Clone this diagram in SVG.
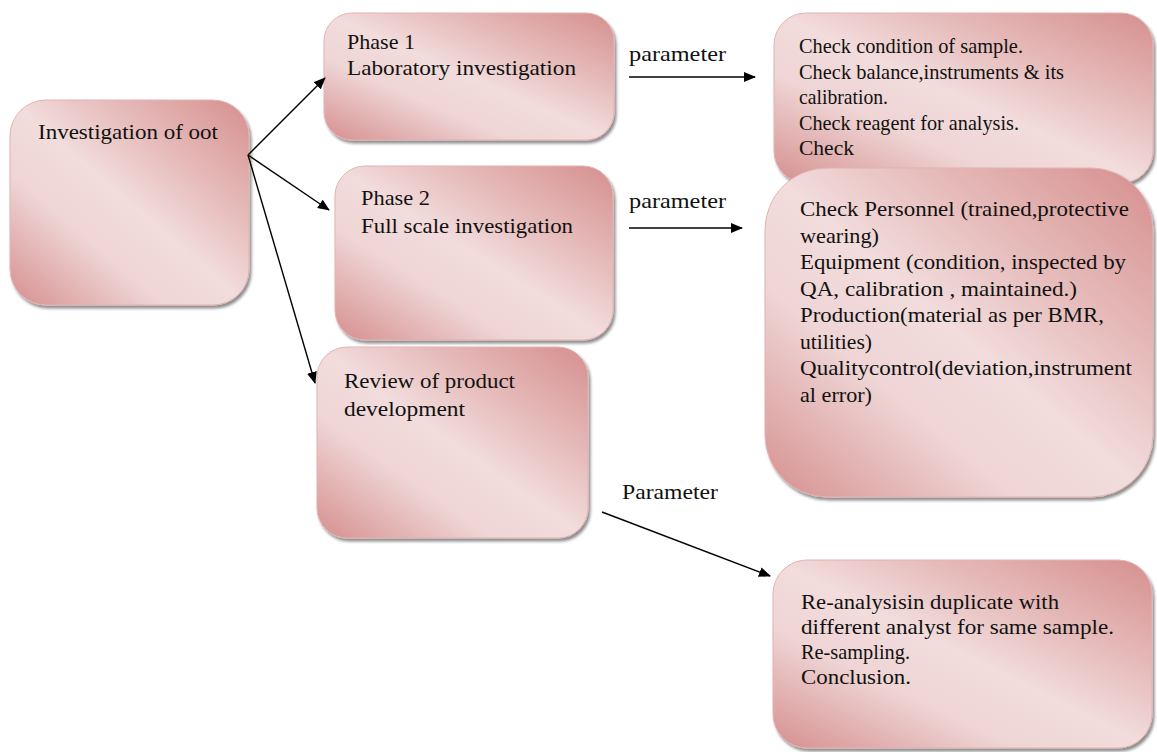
<svg xmlns="http://www.w3.org/2000/svg" width="1157" height="752" viewBox="0 0 1157 752">
<style>
.box{fill:url(#pink);stroke:#e3b3b2;stroke-width:1;filter:url(#sh)}
.t{font-family:"Liberation Serif","Times New Roman",serif;font-size:21px;fill:#111}
.c{stroke:#000;stroke-width:1.4;fill:none;marker-end:url(#ah)}
</style>
<defs>
<linearGradient id="pink" x1="1" y1="0" x2="0" y2="1">
<stop offset="0" stop-color="#d58f8e"/>
<stop offset="0.3" stop-color="#e6bcbb"/>
<stop offset="0.5" stop-color="#f2dcdc"/>
<stop offset="0.68" stop-color="#efd5d5"/>
<stop offset="1" stop-color="#d58f8e"/>
</linearGradient>
<filter id="sh" x="-5%" y="-5%" width="115%" height="115%">
<feGaussianBlur in="SourceAlpha" stdDeviation="1.5"/>
<feOffset dx="2" dy="3" result="b"/>
<feComponentTransfer><feFuncA type="linear" slope="0.45"/></feComponentTransfer>
<feMerge><feMergeNode/><feMergeNode in="SourceGraphic"/></feMerge>
</filter>
<marker id="ah" markerWidth="12" markerHeight="10" refX="11" refY="5" orient="auto" markerUnits="userSpaceOnUse">
<path d="M0,0 L12,5 L0,10 z" fill="#000"/>
</marker>
</defs>

<g id="node-oot">
<rect class="box" x="10" y="100" width="239" height="205" rx="36"/>
<text class="t" x="38" y="139" textLength="180" lengthAdjust="spacingAndGlyphs">Investigation of oot</text>
</g>

<g id="node-phase1">
<rect class="box" x="324" y="13" width="290" height="127" rx="28"/>
<text class="t" x="347" y="49" textLength="68" lengthAdjust="spacingAndGlyphs">Phase 1</text>
<text class="t" x="347" y="75" textLength="229" lengthAdjust="spacingAndGlyphs">Laboratory investigation</text>
</g>

<g id="node-phase2">
<rect class="box" x="335" y="166" width="278" height="174" rx="30"/>
<text class="t" x="361" y="205" textLength="69" lengthAdjust="spacingAndGlyphs">Phase 2</text>
<text class="t" x="361" y="233" textLength="212" lengthAdjust="spacingAndGlyphs">Full scale investigation</text>
</g>

<g id="node-review">
<rect class="box" x="317" y="347" width="271" height="191" rx="30"/>
<text class="t" x="344" y="388" textLength="171" lengthAdjust="spacingAndGlyphs">Review of product</text>
<text class="t" x="344" y="416" textLength="121" lengthAdjust="spacingAndGlyphs">development</text>
</g>

<g id="node-lab-params">
<rect class="box" x="774" y="13" width="379" height="170" rx="32"/>
<text class="t" x="799" y="53" textLength="224" lengthAdjust="spacingAndGlyphs">Check condition of sample.</text>
<text class="t" x="799" y="79" textLength="265" lengthAdjust="spacingAndGlyphs">Check balance,instruments  &amp; its</text>
<text class="t" x="799" y="104" textLength="89" lengthAdjust="spacingAndGlyphs">calibration.</text>
<text class="t" x="799" y="130" textLength="220" lengthAdjust="spacingAndGlyphs">Check reagent for analysis.</text>
<text class="t" x="799" y="155" textLength="55" lengthAdjust="spacingAndGlyphs">Check</text>
</g>

<g id="node-full-params">
<rect class="box" x="765" y="168" width="388" height="329" rx="62"/>
<text class="t" x="800" y="216" textLength="329" lengthAdjust="spacingAndGlyphs">Check Personnel (trained,protective</text>
<text class="t" x="800" y="242.5" textLength="79" lengthAdjust="spacingAndGlyphs">wearing)</text>
<text class="t" x="800" y="269" textLength="326" lengthAdjust="spacingAndGlyphs">Equipment (condition, inspected by</text>
<text class="t" x="800" y="295.5" textLength="277" lengthAdjust="spacingAndGlyphs">QA, calibration , maintained.)</text>
<text class="t" x="800" y="322" textLength="304" lengthAdjust="spacingAndGlyphs">Production(material as per BMR,</text>
<text class="t" x="800" y="348.5" textLength="72" lengthAdjust="spacingAndGlyphs">utilities)</text>
<text class="t" x="800" y="375" textLength="332" lengthAdjust="spacingAndGlyphs">Qualitycontrol(deviation,instrument</text>
<text class="t" x="800" y="401.5" textLength="72" lengthAdjust="spacingAndGlyphs">al error)</text>
</g>

<g id="node-review-params">
<rect class="box" x="773" y="560" width="379" height="188" rx="34"/>
<text class="t" x="801" y="609" textLength="258" lengthAdjust="spacingAndGlyphs">Re-analysisin duplicate with</text>
<text class="t" x="801" y="634" textLength="313" lengthAdjust="spacingAndGlyphs">different analyst for same sample.</text>
<text class="t" x="801" y="659" textLength="109" lengthAdjust="spacingAndGlyphs">Re-sampling.</text>
<text class="t" x="801" y="684" textLength="110" lengthAdjust="spacingAndGlyphs">Conclusion.</text>
</g>

<g id="connectors">
<line class="c" x1="248" y1="155" x2="325" y2="78"/>
<line class="c" x1="248" y1="155" x2="329" y2="210"/>
<line class="c" x1="248" y1="155" x2="315" y2="383"/>
<line class="c" x1="629" y1="77" x2="755" y2="77"/>
<line class="c" x1="629" y1="228" x2="742" y2="228"/>
<line class="c" x1="602" y1="512" x2="770" y2="576"/>
<text class="t" x="629" y="61" textLength="97" lengthAdjust="spacingAndGlyphs">parameter</text>
<text class="t" x="629" y="208" textLength="97" lengthAdjust="spacingAndGlyphs">parameter</text>
<text class="t" x="622" y="499" textLength="96" lengthAdjust="spacingAndGlyphs">Parameter</text>
</g>
</svg>
